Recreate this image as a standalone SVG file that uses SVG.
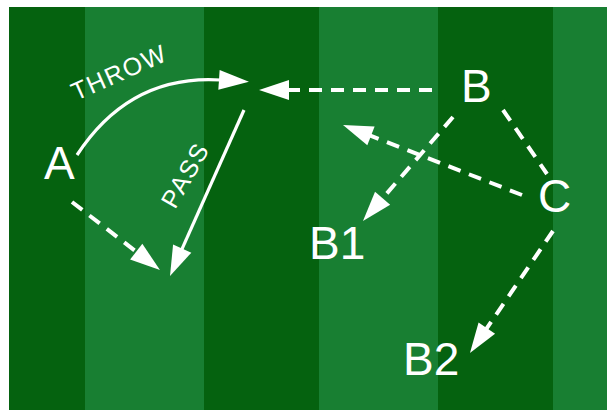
<svg xmlns="http://www.w3.org/2000/svg" width="607" height="410" viewBox="0 0 607 410">
<style>
.lbl{font-family:"Liberation Sans",Arial,sans-serif;font-size:46px;fill:#fff}
.small{font-family:"Liberation Sans",Arial,sans-serif;font-size:25px;fill:#fff;letter-spacing:1.5px}
.solid{fill:none;stroke:#fff;stroke-width:3.2}
.dash{fill:none;stroke:#fff;stroke-width:4;stroke-dasharray:13 9}
</style>
<defs>
<marker id="ah" markerUnits="userSpaceOnUse" markerWidth="30" markerHeight="20" refX="2" refY="10" orient="auto" overflow="visible">
<path d="M0,0 L30,10 L0,20 z" fill="#fff"/>
</marker>
</defs>
<rect x="0" y="0" width="607" height="410" fill="#fff"/>
<g id="field">
<rect x="9" y="7" width="598" height="403" fill="#05620f"/>
<rect x="85" y="7" width="119" height="403" fill="#187f32"/>
<rect x="319" y="7" width="119" height="403" fill="#187f32"/>
<rect x="553" y="7" width="54" height="403" fill="#187f32"/>
</g>
<g id="connectors">
<path class="solid" d="M77,155 Q130,74 221,80" marker-end="url(#ah)"/>
<path class="dash" d="M432,90 L287,90" marker-end="url(#ah)"/>
<path class="solid" d="M244,110 L181.4,250.4" marker-end="url(#ah)"/>
<path class="dash" d="M72,202 L137.8,252.9" marker-end="url(#ah)"/>
<path class="dash" d="M522,195 L369.1,135.2" marker-end="url(#ah)"/>
<path class="dash" d="M453,117 L381.3,199.8" marker-end="url(#ah)"/>
<path class="dash" d="M503,110 L547,174"/>
<path class="dash" d="M553,231 L485.7,329.9" marker-end="url(#ah)"/>
<text class="small" transform="translate(76,101) rotate(-24)">THROW</text>
<text class="small" transform="translate(175,210) rotate(-60)">PASS</text>
</g>
<g id="A"><text class="lbl" x="44" y="179">A</text></g>
<g id="B"><text class="lbl" x="461" y="102">B</text></g>
<g id="C"><text class="lbl" x="538" y="212">C</text></g>
<g id="B1"><text class="lbl" x="309" y="259">B1</text></g>
<g id="B2"><text class="lbl" x="403" y="375">B2</text></g>
</svg>
